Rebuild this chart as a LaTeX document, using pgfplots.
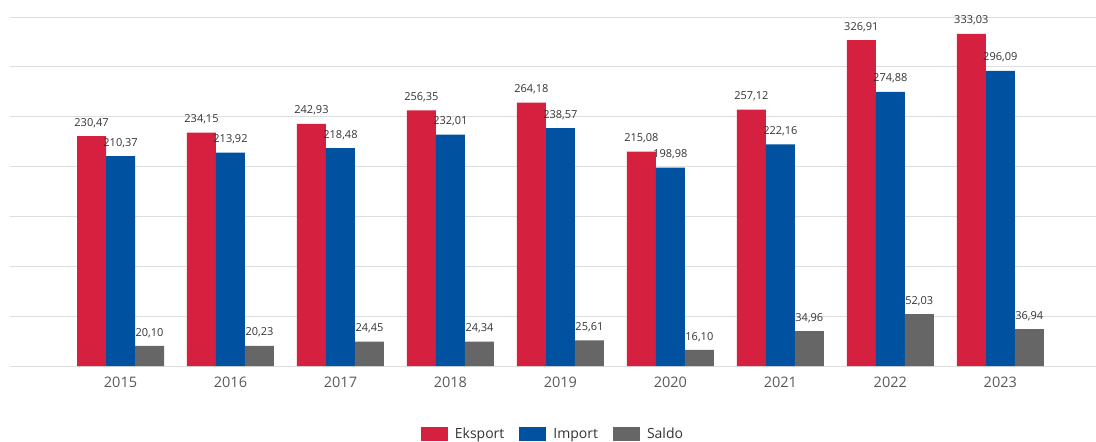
\documentclass[border=0pt]{standalone}
\usepackage{pgfplots}
\pgfplotsset{compat=1.18}
\usepackage{fontspec}
\setmainfont{Open Sans}
\definecolor{cEks}{RGB}{213,33,63}
\definecolor{cImp}{RGB}{0,82,160}
\definecolor{cSal}{RGB}{102,102,102}
\definecolor{cGrid}{RGB}{222,222,222}
\definecolor{cTick}{RGB}{89,89,89}
\definecolor{cLab}{RGB}{51,51,51}
\begin{document}
\begin{tikzpicture}
\useasboundingbox (0,0) rectangle (1096pt,-442pt);
\begin{axis}[
  at={(10pt,-366pt)}, anchor=south west,
  scale only axis, width=1086pt, height=349pt,
  xmin=-1.005, xmax=8.87, ymin=0, ymax=350,
  ybar=0pt, bar width=29pt,
  axis line style={draw=none},
  ymajorgrids, grid style={cGrid, line width=1pt},
  ytick={0,50,...,350}, yticklabels={},
  major tick length=0pt,
  xtick={0,...,8},
  xticklabels={2015,2016,2017,2018,2019,2020,2021,2022,2023},
  xticklabel style={font=\fontsize{14.5}{16}\selectfont, text=cTick, yshift=-7pt},
  nodes near coords,
  every node near coord/.append style={font=\fontsize{11}{12}\selectfont, text=cLab, yshift=5pt},
  /pgf/number format/.cd, use comma, fixed, fixed zerofill, precision=2, assume math mode=true,
  /pgfplots/.cd,
  clip=false,
  legend columns=3,
  legend style={at={(0.5,-0.195)}, anchor=center, draw=none, font=\fontsize{14}{16}\selectfont, text=cLab,
    /tikz/every odd column/.style={column sep=5pt},
    /tikz/every even column/.style={column sep=13pt}},
  legend image code/.code={\fill[#1] (0pt,-7pt) rectangle (27pt,7pt);},
]
\addplot[fill=cEks, draw=none] coordinates {(0,230.47) (1,234.15) (2,242.93) (3,256.35) (4,264.18) (5,215.08) (6,257.12) (7,326.91) (8,333.03)};
\addplot[fill=cImp, draw=none] coordinates {(0,210.37) (1,213.92) (2,218.48) (3,232.01) (4,238.57) (5,198.98) (6,222.16) (7,274.88) (8,296.09)};
\addplot[fill=cSal, draw=none] coordinates {(0,20.10) (1,20.23) (2,24.45) (3,24.34) (4,25.61) (5,16.10) (6,34.96) (7,52.03) (8,36.94)};
\legend{Eksport, Import, Saldo}
\end{axis}
\end{tikzpicture}
\end{document}
